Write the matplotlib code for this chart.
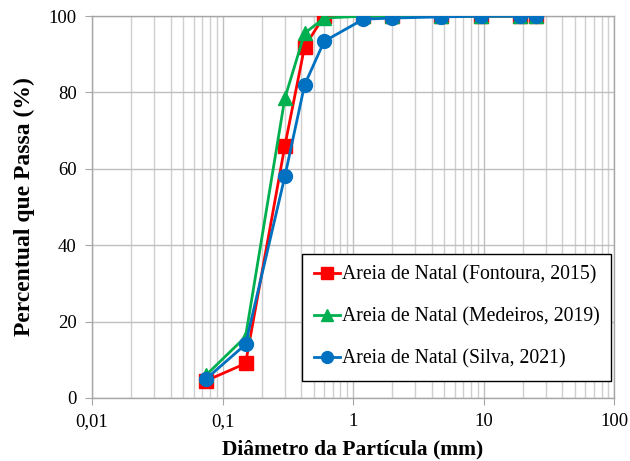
import matplotlib
matplotlib.use("Agg")
import matplotlib.pyplot as plt
from matplotlib.ticker import FixedLocator, FixedFormatter, LogLocator, NullFormatter

plt.rcParams['font.family'] = ['Liberation Serif', 'DejaVu Serif']

diam = [0.075, 0.15, 0.3, 0.425, 0.6, 1.2, 2.0, 4.75, 9.5, 19.0, 25.0]
fontoura = [4.5, 9.0, 66.0, 92.0, 100.0, 100.0, 100.0, 100.0, 100.0, 100.0, 100.0]
medeiros = [6.0, 16.0, 78.5, 95.5, 99.5, 100.0, 100.0, 100.0, 100.0, 100.0, 100.0]
silva = [5.0, 14.0, 58.0, 82.0, 93.4, 99.2, 99.5, 99.8, 100.0, 100.0, 100.0]

labels = ["Areia de Natal (Fontoura, 2015)",
          "Areia de Natal (Medeiros, 2019)",
          "Areia de Natal (Silva, 2021)"]
xticks = [0.01, 0.1, 1, 10, 100]
xticklabels = ["0,01", "0,1", "1", "10", "100"]
yticks = [0, 20, 40, 60, 80, 100]

fig = plt.figure(figsize=(6.3, 4.61), dpi=100)
ax = fig.add_axes([0.146, 0.137, 0.829, 0.828])

ax.plot(diam, fontoura, color='#FF0000', marker='s', markersize=9.5, lw=2, label=labels[0], zorder=3)
ax.plot(diam, medeiros, color='#00B050', marker='^', markersize=9.5, lw=2, label=labels[1], zorder=4)
ax.plot(diam, silva, color='#0070C0', marker='o', markersize=10, lw=2, label=labels[2], zorder=5)

ax.set_xscale('log')
ax.set_xlim(0.01, 100)
ax.set_ylim(0, 100)
ax.xaxis.set_major_locator(FixedLocator(xticks))
ax.xaxis.set_major_formatter(FixedFormatter(xticklabels))
ax.xaxis.set_minor_locator(LogLocator(base=10, subs=range(2, 10)))
ax.xaxis.set_minor_formatter(NullFormatter())
ax.set_yticks(yticks)

ax.grid(True, which='major', color='#BFBFBF', lw=1.0)
ax.grid(True, which='minor', axis='x', color='#CFCFCF', lw=1.0)
ax.set_axisbelow(True)
for s in ax.spines.values():
    s.set_color('#A6A6A6')
    s.set_linewidth(1.0)
ax.tick_params(axis='both', which='major', length=5, color='#A6A6A6', labelsize=13.5, pad=6)
ax.tick_params(axis='x', which='minor', length=0)

ax.set_xlabel("Diâmetro da Partícula (mm)", fontsize=15.5, fontweight='bold', labelpad=7)
ax.set_ylabel("Percentual que Passa (%)", fontsize=17, fontweight='bold', labelpad=10)

leg = ax.legend(loc='lower right', bbox_to_anchor=(0.994, 0.045), fontsize=14.2,
                frameon=True, fancybox=False, edgecolor='black', framealpha=1,
                handlelength=1.3, handletextpad=0.1, labelspacing=1.15,
                borderpad=0.6, borderaxespad=0.0, markerscale=0.85)
leg.get_frame().set_linewidth(1.0)

fig.savefig("out.png", dpi=100)
